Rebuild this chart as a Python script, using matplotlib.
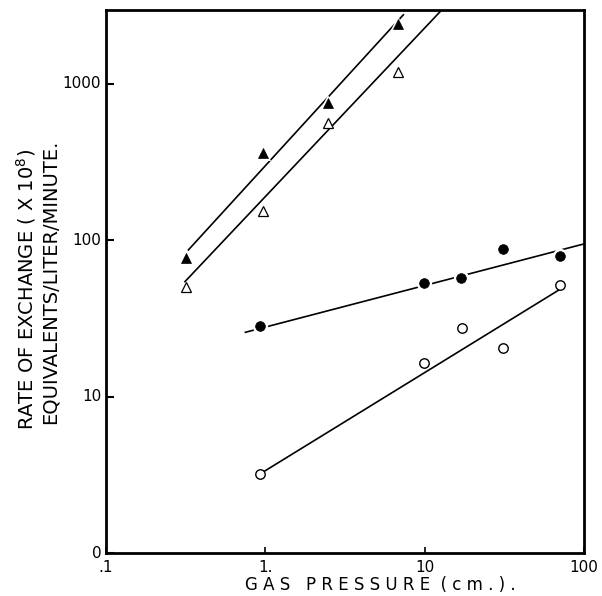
import matplotlib
matplotlib.use("Agg")
import matplotlib.pyplot as plt

plt.rcParams['font.family'] = ['DejaVu Sans']

# filled triangles
ft_x = [0.32, 0.97, 2.49, 6.84]
ft_y = [77, 361, 754, 2425]
ft_line_x = [0.329, 7.35]
ft_line_y = [86.8, 2768]

# open triangles
ot_x = [0.32, 0.97, 2.49, 6.78]
ot_y = [50.6, 155, 566, 1200]
ot_line_x = [0.313, 14.5]
ot_line_y = [54.4, 3400]

# filled circles
fc_x = [0.92, 9.9, 16.9, 31.2, 70.2]
fc_y = [28.5, 53.6, 57.7, 87.7, 79.8]
fc_line_x = [0.75, 100]
fc_line_y = [25.8, 94.8]

# open circles
oc_x = [0.92, 9.9, 17.1, 30.9, 70.8]
oc_y = [3.19, 16.4, 27.4, 20.4, 51.8]
oc_line_x = [0.92, 69.8]
oc_line_y = [3.19, 48.2]

xticks = [0.1, 1, 10, 100]
xtick_labels = ['.1', '1.', '10', '100']
yticks = [1, 10, 100, 1000]
ytick_labels = ['0', '10', '100', '1000']

fig = plt.figure(figsize=(6.02, 5.96), dpi=100)
ax = fig.add_axes([106/602, 1 - 553/596, (584 - 106)/602, (553 - 10)/596])
ax.set_xscale('log')
ax.set_yscale('log')
ax.set_xlim(0.1, 100)
ax.set_ylim(1, 2970)

lw = 1.2
ax.plot(ft_line_x, ft_line_y, color='black', lw=lw, zorder=2)
ax.plot(ot_line_x, ot_line_y, color='black', lw=lw, zorder=2)
ax.plot(fc_line_x, fc_line_y, color='black', lw=lw, zorder=2)
ax.plot(oc_line_x, oc_line_y, color='black', lw=lw, zorder=2)

# white halos that break the fitted lines around the filled markers
ax.plot(ft_x, ft_y, linestyle='none', marker='^', ms=11, mfc='white',
        mec='white', mew=0, zorder=3)
ax.plot(fc_x, fc_y, linestyle='none', marker='o', ms=11, mfc='white',
        mec='white', mew=0, zorder=3)

ax.plot(ft_x, ft_y, linestyle='none', marker='^', ms=7.5, mfc='black',
        mec='black', mew=0.5, zorder=4)
ax.plot(ot_x, ot_y, linestyle='none', marker='^', ms=7, mfc='white',
        mec='black', mew=0.9, zorder=4)
ax.plot(fc_x, fc_y, linestyle='none', marker='o', ms=7, mfc='black',
        mec='black', mew=0.5, zorder=4)
ax.plot(oc_x, oc_y, linestyle='none', marker='o', ms=6.8, mfc='white',
        mec='black', mew=1.0, zorder=4)

ax.minorticks_off()
ax.set_xticks(xticks)
ax.set_xticklabels(xtick_labels)
ax.set_yticks(yticks)
ax.set_yticklabels(ytick_labels)
ax.tick_params(axis='x', direction='in', length=4, width=1.2, labelsize=11, pad=5)
ax.tick_params(axis='y', direction='in', length=6, width=1.5, labelsize=11, pad=3.5)
for t in ax.get_yticklabels():
    t.set_verticalalignment('center')

for s in ax.spines.values():
    s.set_linewidth(2.0)

fig.text(380/602, 1 - 585/596, 'G A S   P R E S S U R E  ( c m . ) .',
         ha='center', va='center', fontsize=12)
fig.text(26/602, 1 - 289/596, 'RATE OF EXCHANGE ( X 10$^{8}$)',
         rotation=90, ha='center', va='center', fontsize=14)
fig.text(50/602, 1 - 282/596, 'EQUIVALENTS/LITER/MINUTE.',
         rotation=90, ha='center', va='center', fontsize=14)

fig.savefig('out.png', dpi=100)
